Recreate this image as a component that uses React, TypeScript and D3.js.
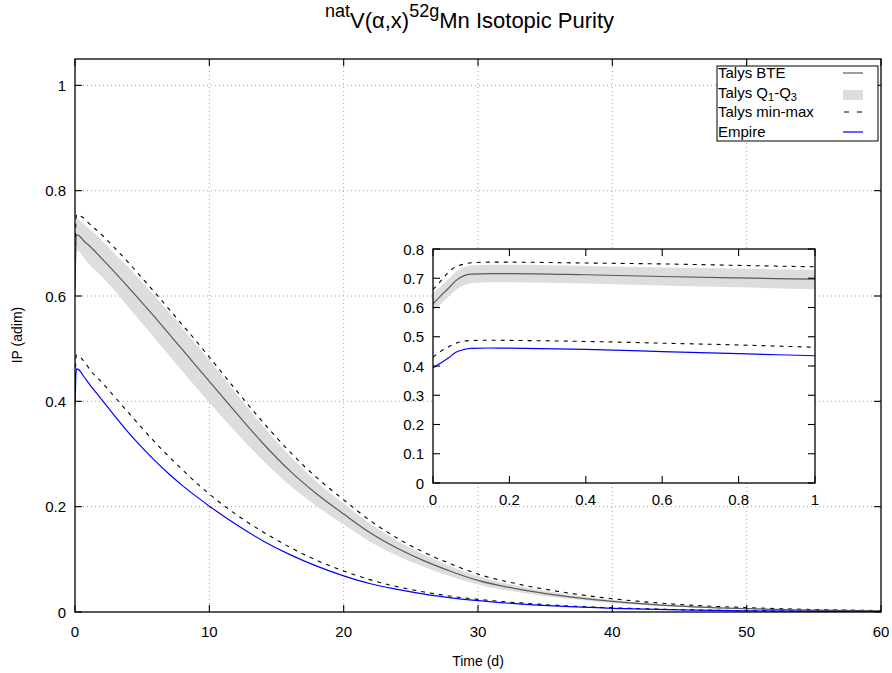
import React from "react";
import * as d3 from "d3";

const time = [0, 0.02, 0.04, 0.06, 0.08, 0.1, 0.15, 0.2, 0.4, 0.6, 0.8, 1, 2, 3, 4, 5, 6, 7, 8, 9, 10, 12, 14, 16, 18, 20, 22, 24, 26, 28, 30, 33, 36, 40, 45, 50, 55, 60];
const talysBTE = [0.612, 0.640, 0.665, 0.692, 0.708, 0.714, 0.716, 0.716, 0.712, 0.706, 0.701, 0.697, 0.671, 0.644, 0.616, 0.587, 0.558, 0.528, 0.498, 0.468, 0.438, 0.378, 0.320, 0.268, 0.224, 0.186, 0.150, 0.121, 0.097, 0.077, 0.060, 0.0435, 0.0315, 0.0203, 0.0113, 0.0063, 0.0035, 0.002];
const talysQ1 = [0.590, 0.612, 0.636, 0.660, 0.676, 0.683, 0.686, 0.686, 0.682, 0.675, 0.669, 0.662, 0.637, 0.609, 0.578, 0.548, 0.518, 0.487, 0.457, 0.427, 0.398, 0.341, 0.287, 0.240, 0.201, 0.166, 0.133, 0.107, 0.0855, 0.0675, 0.052, 0.0375, 0.027, 0.0173, 0.0095, 0.0053, 0.0029, 0.0016];
const talysQ3 = [0.648, 0.672, 0.697, 0.722, 0.738, 0.744, 0.746, 0.746, 0.742, 0.737, 0.733, 0.729, 0.705, 0.679, 0.654, 0.626, 0.598, 0.569, 0.539, 0.509, 0.478, 0.415, 0.353, 0.296, 0.247, 0.206, 0.167, 0.135, 0.1085, 0.0865, 0.068, 0.0495, 0.036, 0.0233, 0.0131, 0.0073, 0.0041, 0.0024];
const talysMax = [0.661, 0.690, 0.720, 0.740, 0.748, 0.753, 0.755, 0.755, 0.752, 0.749, 0.744, 0.739, 0.716, 0.690, 0.663, 0.634, 0.605, 0.575, 0.545, 0.515, 0.484, 0.421, 0.360, 0.304, 0.255, 0.213, 0.173, 0.140, 0.113, 0.091, 0.072, 0.053, 0.039, 0.0253, 0.0143, 0.0083, 0.0047, 0.0028];
const talysMin = [0.430, 0.450, 0.465, 0.478, 0.485, 0.487, 0.488, 0.4875, 0.484, 0.478, 0.472, 0.464, 0.436, 0.407, 0.378, 0.349, 0.321, 0.295, 0.270, 0.246, 0.224, 0.185, 0.152, 0.123, 0.098, 0.078, 0.061, 0.048, 0.038, 0.030, 0.024, 0.0175, 0.0125, 0.008, 0.0045, 0.0025, 0.0014, 0.0008];
const empire = [0.393, 0.410, 0.427, 0.447, 0.456, 0.460, 0.4615, 0.4612, 0.457, 0.449, 0.442, 0.435, 0.403, 0.371, 0.340, 0.312, 0.286, 0.262, 0.240, 0.220, 0.201, 0.166, 0.135, 0.109, 0.087, 0.0686, 0.0536, 0.043, 0.034, 0.027, 0.0215, 0.0155, 0.011, 0.007, 0.004, 0.0022, 0.0012, 0.0007];

const mainXTicks = [0, 10, 20, 30, 40, 50, 60];
const mainYTicks = [0, 0.2, 0.4, 0.6, 0.8, 1];
const insetXTicks = [0, 0.2, 0.4, 0.6, 0.8, 1];
const insetYTicks = [0, 0.1, 0.2, 0.3, 0.4, 0.5, 0.6, 0.7, 0.8];

const FONT = "'Liberation Sans', Arial, sans-serif";

type Row = { t: number; bte: number; q1: number; q3: number; mx: number; mn: number; emp: number };
const rows: Row[] = time.map((t, i) => ({
  t,
  bte: talysBTE[i],
  q1: talysQ1[i],
  q3: talysQ3[i],
  mx: talysMax[i],
  mn: talysMin[i],
  emp: empire[i],
}));

function Curves({ x, y, data, id }: { x: d3.ScaleLinear<number, number>; y: d3.ScaleLinear<number, number>; data: Row[]; id: string }) {
  const band = d3.area<Row>().x((d) => x(d.t)).y0((d) => y(d.q1)).y1((d) => y(d.q3)).curve(d3.curveMonotoneX);
  const mk = (f: (d: Row) => number) => d3.line<Row>().x((d) => x(d.t)).y((d) => y(f(d))).curve(d3.curveMonotoneX)(data) || "";
  return (
    <g clipPath={`url(#${id})`}>
      <path d={band(data) || ""} fill="#dddddd" stroke="none" />
      <path d={mk((d) => d.mx)} fill="none" stroke="#000" strokeWidth={1.1} strokeDasharray="4,5" />
      <path d={mk((d) => d.mn)} fill="none" stroke="#000" strokeWidth={1.1} strokeDasharray="4,5" />
      <path d={mk((d) => d.bte)} fill="none" stroke="#5a5a5a" strokeWidth={1.2} />
      <path d={mk((d) => d.emp)} fill="none" stroke="#0000ff" strokeWidth={1.2} />
    </g>
  );
}

export default function App() {
  const W = 892, H = 673;
  const L = 75, R = 881, T = 59, B = 612;
  const x = d3.scaleLinear().domain([0, 60]).range([L, R]);
  const y = d3.scaleLinear().domain([0, 1.05]).range([B, T]);

  const iL = 433, iR = 815, iT = 249, iB = 483;
  const xi = d3.scaleLinear().domain([0, 1]).range([iL, iR]);
  const yi = d3.scaleLinear().domain([0, 0.8]).range([iB, iT]);
  const insetData = rows.filter((d) => d.t <= 1);
  const tk = 7;

  const fmt = (v: number) => (Math.round(v * 10) / 10).toString();

  return (
    <svg width={W} height={H} style={{ position: "absolute", left: 0, top: 0, background: "#fff" }} fontFamily={FONT}>
      <defs>
        <clipPath id="clipMain"><rect x={L} y={T} width={R - L} height={B - T} /></clipPath>
        <clipPath id="clipInset"><rect x={iL} y={iT} width={iR - iL} height={iB - iT} /></clipPath>
      </defs>
      <rect x={0} y={0} width={W} height={H} fill="#fff" />

      {/* grid */}
      <g stroke="#a0a0a0" strokeWidth={1} strokeDasharray="1,3">
        {mainXTicks.filter((v) => v > 0 && v < 60).map((v) => (
          <line key={"gx" + v} x1={x(v)} x2={x(v)} y1={T} y2={B} />
        ))}
        {mainYTicks.filter((v) => v > 0).map((v) => (
          <line key={"gy" + v} x1={L} x2={R} y1={y(v)} y2={y(v)} />
        ))}
      </g>

      <Curves x={x} y={y} data={rows} id="clipMain" />

      {/* main frame & ticks */}
      <rect x={L} y={T} width={R - L} height={B - T} fill="none" stroke="#000" strokeWidth={1.3} />
      <g stroke="#000" strokeWidth={1.1}>
        {mainXTicks.map((v) => (
          <g key={"tx" + v}>
            <line x1={x(v)} x2={x(v)} y1={B} y2={B - tk} />
            <line x1={x(v)} x2={x(v)} y1={T} y2={T + tk} />
          </g>
        ))}
        {mainYTicks.map((v) => (
          <g key={"ty" + v}>
            <line x1={L} x2={L + tk} y1={y(v)} y2={y(v)} />
            <line x1={R} x2={R - tk} y1={y(v)} y2={y(v)} />
          </g>
        ))}
      </g>
      <g fontSize={15} fill="#000">
        {mainXTicks.map((v) => (
          <text key={"lx" + v} x={x(v)} y={B + 25} textAnchor="middle">{v}</text>
        ))}
        {mainYTicks.map((v) => (
          <text key={"ly" + v} x={L - 9} y={y(v) + 5.5} textAnchor="end">{fmt(v)}</text>
        ))}
      </g>
      <text x={(L + R) / 2} y={666} fontSize={14} textAnchor="middle">Time (d)</text>
      <text transform={`translate(22,335) rotate(-90)`} fontSize={14} textAnchor="middle">IP (adim)</text>

      {/* title */}
      <text x={325} y={28} fontSize={22} textAnchor="start">
        <tspan fontSize={18} dy={-11}>nat</tspan>
        <tspan dy={11}>V(α,x)</tspan>
        <tspan fontSize={18} dy={-11}>52g</tspan>
        <tspan dy={11}>Mn Isotopic Purity</tspan>
      </text>

      {/* legend */}
      <rect x={717} y={66} width={161} height={75} fill="#fff" stroke="#000" strokeWidth={1} />
      <g fontSize={15} fill="#000">
        <text x={718} y={78}>Talys BTE</text>
        <text x={718} y={97.5}>
          Talys Q<tspan fontSize={11} dy={3}>1</tspan><tspan dy={-3}>-Q</tspan><tspan fontSize={11} dy={3}>3</tspan>
        </text>
        <text x={718} y={117}>Talys min-max</text>
        <text x={718} y={136.5}>Empire</text>
      </g>
      <line x1={843} x2={863} y1={73} y2={73} stroke="#5a5a5a" strokeWidth={1.2} />
      <rect x={843} y={90} width={20} height={10} fill="#dddddd" />
      <line x1={844} x2={863} y1={112} y2={112} stroke="#000" strokeWidth={1.1} strokeDasharray="5,8" />
      <line x1={843} x2={863} y1={132} y2={132} stroke="#0000ff" strokeWidth={1.2} />

      {/* inset */}
      <rect x={iL} y={iT} width={iR - iL} height={iB - iT} fill="#fff" />
      <Curves x={xi} y={yi} data={insetData} id="clipInset" />
      <rect x={iL} y={iT} width={iR - iL} height={iB - iT} fill="none" stroke="#000" strokeWidth={1.3} />
      <g stroke="#000" strokeWidth={1.1}>
        {insetXTicks.map((v) => (
          <g key={"itx" + v}>
            <line x1={xi(v)} x2={xi(v)} y1={iB} y2={iB - tk} />
            <line x1={xi(v)} x2={xi(v)} y1={iT} y2={iT + tk} />
          </g>
        ))}
        {insetYTicks.map((v) => (
          <g key={"ity" + v}>
            <line x1={iL} x2={iL + tk} y1={yi(v)} y2={yi(v)} />
            <line x1={iR} x2={iR - tk} y1={yi(v)} y2={yi(v)} />
          </g>
        ))}
      </g>
      <g fontSize={15} fill="#000">
        {insetXTicks.map((v) => (
          <text key={"ilx" + v} x={xi(v)} y={iB + 22} textAnchor="middle">{fmt(v)}</text>
        ))}
        {insetYTicks.map((v) => (
          <text key={"ily" + v} x={iL - 9} y={yi(v) + 5.5} textAnchor="end">{fmt(v)}</text>
        ))}
      </g>
    </svg>
  );
}
